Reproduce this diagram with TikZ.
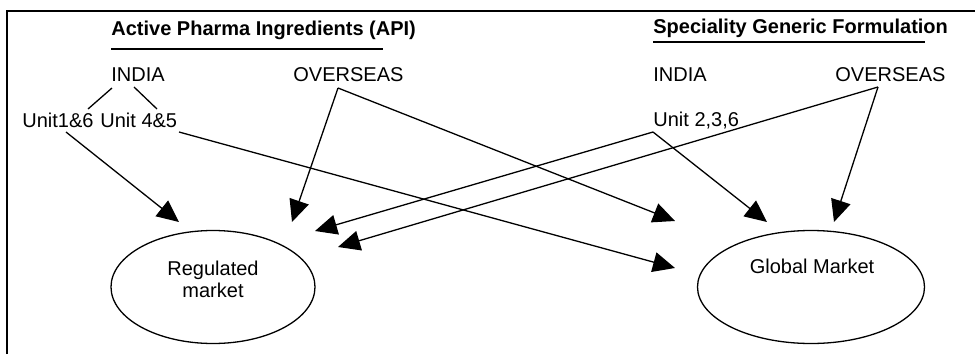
\documentclass[tikz,border=0pt]{standalone}
\usepackage{fontspec}
\setmainfont{Liberation Sans}
\usetikzlibrary{arrows.meta,shapes.geometric}
\begin{document}
\begin{tikzpicture}[x=0.5pt, y=-0.5pt,
    lbl/.style={inner sep=0pt, anchor=base west, font=\fontsize{10}{11}\selectfont},
    head/.style={lbl, font=\fontsize{10}{11}\selectfont\bfseries},
    mkt/.style={ellipse, draw, line width=0.65pt, minimum height=56.5pt, inner sep=0pt},
    link/.style={line width=0.65pt},
    flow/.style={line width=0.65pt, -{Triangle[length=11pt, width=10pt]}}]
    \useasboundingbox (0,0) rectangle (975,354);
    \draw[line width=1.15pt] (7,354) -- (7,11) -- (975,11);

    % headings
    \node[head] (api) at (111,35) {Active Pharma Ingredients (API)};
    \node[head] (sgf) at (653,33) {Speciality Generic Formulation};
    \draw[link] (111,49) -- (383,49);
    \draw[link] (653,42) -- (925,42);

    % sources
    \node[lbl] (indA) at (111,81) {INDIA};
    \node[lbl] (ovsA) at (293,81) {OVERSEAS};
    \node[lbl] (u16) at (22,127) {Unit1\&6};
    \node[lbl] (u45) at (100,127) {Unit 4\&5};
    \node[lbl] (indB) at (653,81) {INDIA};
    \node[lbl] (ovsB) at (835,81) {OVERSEAS};
    \node[lbl] (u236) at (653,126) {Unit 2,3,6};

    % markets
    \node[mkt, minimum width=102pt] (reg) at (213,287) {};
    \node[mkt, minimum width=113.5pt] (glob) at (811,287) {};
    \node[inner sep=0pt, align=center, font=\fontsize{10}{11}\selectfont] (regtxt) at (213,279) {Regulated\\market};
    \node[inner sep=0pt, anchor=base, font=\fontsize{10}{11}\selectfont] (globtxt) at (812,273) {Global Market};

    % connector ends
    \coordinate (indAl) at (112,88);  \coordinate (u16t) at (88,109);
    \coordinate (indAr) at (134,87);  \coordinate (u45t) at (157,109);
    \coordinate (u16b) at (66,132);   \coordinate (u45b) at (179,132);
    \coordinate (ovsAb) at (338,88);  \coordinate (u236b) at (653,132);
    \coordinate (ovsBb) at (878,87);
    \coordinate (reg1) at (179,222);  \coordinate (reg2) at (292,222);
    \coordinate (reg3) at (315,231);  \coordinate (reg4) at (338,247);
    \coordinate (glob1) at (675,221); \coordinate (glob2) at (675,268);
    \coordinate (glob3) at (767,222); \coordinate (glob4) at (834,222);

    \draw[link] (indAl) -- (u16t);
    \draw[link] (indAr) -- (u45t);
    \draw[flow] (u16b) -- (reg1);
    \draw[flow] (u45b) -- (glob2);
    \draw[flow] (ovsAb) -- (reg2);
    \draw[flow] (ovsAb) -- (glob1);
    \draw[flow] (u236b) -- (reg3);
    \draw[flow] (u236b) -- (glob3);
    \draw[flow] (ovsBb) -- (reg4);
    \draw[flow] (ovsBb) -- (glob4);
\end{tikzpicture}
\end{document}
